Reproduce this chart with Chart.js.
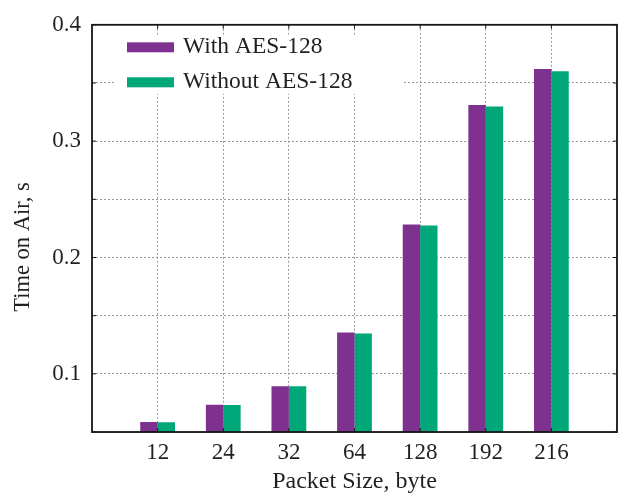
<!DOCTYPE html>
<html>
<head>
<meta charset="utf-8">
<script src="https://cdn.jsdelivr.net/npm/chart.js@4.4.1/dist/chart.umd.min.js"></script>
<style>
  html, body { margin: 0; padding: 0; background: #ffffff; }
  #wrap { width: 624px; height: 494px; }
</style>
</head>
<body>
<div id="wrap"><canvas id="chart" width="624" height="494"></canvas></div>
<script>
// Packet sizes (bytes) along the x axis
const packetSizes = ['12', '24', '32', '64', '128', '192', '216'];
// Time on air (s) for each packet size
const withAes = [0.0586, 0.0734, 0.0894, 0.1356, 0.2283, 0.3310, 0.3620];
const withoutAes = [0.0584, 0.0732, 0.0893, 0.1347, 0.2275, 0.3298, 0.3600];
const seriesNames = ['With AES-128', 'Without AES-128'];
const seriesColors = ['#7E318F', '#00A778'];
// Labelled y ticks (grid every 0.05)
const yTickLabels = [0.1, 0.2, 0.3, 0.4];
const yAxisTitle = 'Time on Air, s';
const xAxisTitle = 'Packet Size, byte';

const FONT = '"Liberation Serif", "Times New Roman", serif';
const TEXT = '#231f20';
const GRID = '#9a9a9a';

const toPoints = vals => vals.map((v, i) => ({ x: i + 1, y: v }));

// Framed plot box with short inward tick marks
const framePlugin = {
  id: 'frame',
  afterDatasetsDraw(chart) {
    const { ctx, chartArea: a, scales } = chart;
    ctx.save();
    ctx.strokeStyle = '#161616';
    ctx.lineWidth = 1;
    ctx.beginPath();
    scales.y.ticks.forEach(t => {
      const py = scales.y.getPixelForValue(t.value);
      ctx.moveTo(a.left, py); ctx.lineTo(a.left + 4, py);
      ctx.moveTo(a.right, py); ctx.lineTo(a.right - 4, py);
    });
    scales.x.ticks.forEach(t => {
      if (t.value <= 0 || t.value >= packetSizes.length + 1) return;
      const px = scales.x.getPixelForValue(t.value);
      ctx.moveTo(px, a.top); ctx.lineTo(px, a.top + 4);
      ctx.moveTo(px, a.bottom); ctx.lineTo(px, a.bottom - 4);
    });
    ctx.stroke();
    ctx.lineWidth = 1.8;
    ctx.strokeRect(a.left, a.top, a.right - a.left, a.bottom - a.top);
    ctx.restore();
  }
};

// Legend drawn inside the plot on a white panel
const insideLegend = {
  id: 'insideLegend',
  beforeDatasetsDraw(chart) {
    const { ctx, chartArea: a } = chart;
    ctx.save();
    ctx.fillStyle = '#ffffff';
    ctx.fillRect(a.left + 24, a.top + 10, 288, 59);
    ctx.restore();
  },
  afterDatasetsDraw(chart) {
    const { ctx, chartArea: a } = chart;
    ctx.save();
    ctx.font = '23.5px ' + FONT;
    ctx.textBaseline = 'middle';
    ctx.textAlign = 'left';
    chart.data.datasets.forEach((ds, i) => {
      const cy = a.top + 22.5 + i * 35;
      ctx.fillStyle = ds.backgroundColor;
      ctx.fillRect(a.left + 35, cy - 5, 47, 10);
      ctx.fillStyle = TEXT;
      ctx.fillText(ds.label, a.left + 91, cy);
    });
    ctx.restore();
  }
};

// Rotated y-axis title
const yTitlePlugin = {
  id: 'yTitle',
  afterDraw(chart) {
    const { ctx } = chart;
    ctx.save();
    ctx.translate(23, 247);
    ctx.rotate(-Math.PI / 2);
    ctx.font = '22.5px ' + FONT;
    ctx.fillStyle = TEXT;
    ctx.textAlign = 'center';
    ctx.textBaseline = 'middle';
    ctx.fillText(yAxisTitle, 0, 0);
    ctx.restore();
  }
};

const hideEdge = ctx => {
  const v = ctx.tick ? ctx.tick.value : null;
  return (v === 0 || v === packetSizes.length + 1) ? 'rgba(0,0,0,0)' : GRID;
};

new Chart(document.getElementById('chart'), {
  type: 'bar',
  data: {
    datasets: [
      { label: seriesNames[0], data: toPoints(withAes), backgroundColor: seriesColors[0], borderWidth: 0 },
      { label: seriesNames[1], data: toPoints(withoutAes), backgroundColor: seriesColors[1], borderWidth: 0 }
    ]
  },
  options: {
    responsive: false,
    devicePixelRatio: 1,
    animation: false,
    categoryPercentage: 0.53,
    barPercentage: 1.0,
    layout: { padding: { top: 23, right: 5, left: 0, bottom: 0 } },
    plugins: { legend: { display: false }, tooltip: { enabled: false } },
    scales: {
      x: {
        type: 'linear',
        min: 0,
        max: packetSizes.length + 1,
        offset: false,
        grid: { offset: false, color: hideEdge, lineWidth: 1, drawTicks: false },
        border: { display: false, dash: [2, 2] },
        ticks: {
          stepSize: 1,
          autoSkip: false,
          maxRotation: 0,
          padding: 7,
          color: TEXT,
          font: { family: FONT, size: 23 },
          callback: v => packetSizes[v - 1] ?? ''
        },
        title: {
          display: true,
          text: xAxisTitle,
          color: TEXT,
          font: { family: FONT, size: 24, lineHeight: 1 },
          padding: { top: 0, bottom: 0 }
        },
        afterFit(scale) { scale.height = 62; }
      },
      y: {
        min: 0.05,
        max: 0.4,
        grid: { color: GRID, lineWidth: 1, drawTicks: false },
        border: { display: false, dash: [2, 2] },
        ticks: {
          stepSize: 0.05,
          padding: 11,
          color: TEXT,
          font: { family: FONT, size: 23 },
          callback: v => yTickLabels.some(t => Math.abs(t - v) < 1e-9) ? v.toFixed(1) : ''
        },
        afterFit(scale) { scale.width = 92; }
      }
    }
  },
  plugins: [framePlugin, insideLegend, yTitlePlugin]
});
</script>
</body>
</html>
